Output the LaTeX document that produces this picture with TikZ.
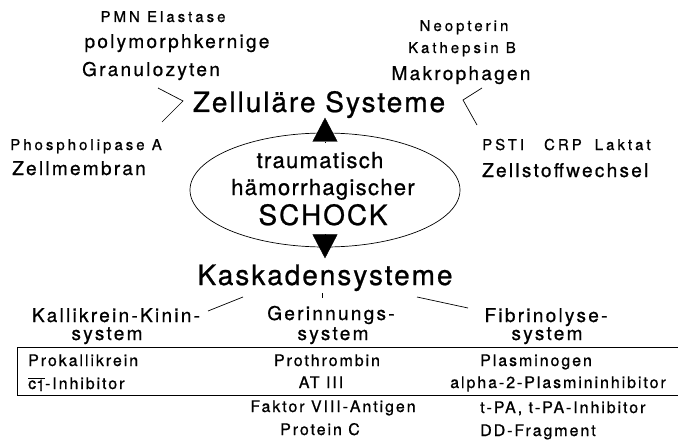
\documentclass[tikz,border=0pt]{standalone}
\usepackage{fontspec}
\setmainfont{TeX Gyre Heros}[FakeBold=0.8]
\usepackage{tikz}
\usetikzlibrary{arrows.meta, positioning, shapes.geometric}

\begin{document}
\begin{tikzpicture}[
  x=1pt, y=-1pt,
  every node/.style={inner sep=0pt, anchor=base},
  small/.style={font=\fontsize{15}{17}\selectfont\addfontfeature{LetterSpace=20}},
  lower/.style={font=\fontsize{16}{18}\selectfont\addfontfeature{LetterSpace=12}},
  mid/.style={font=\fontsize{19}{21}\selectfont\addfontfeature{LetterSpace=12}},
  inner/.style={font=\fontsize{22}{24}\selectfont\addfontfeature{LetterSpace=6}},
  big/.style={font=\fontsize{28}{30}\selectfont\addfontfeature{LetterSpace=7}},
  link/.style={line width=0.7pt},
  tri/.style={-{Triangle[width=25pt,length=24pt]}}
]
\useasboundingbox (0,0) rectangle (678,444);

% Nodes
\node[small] (pmn) at (163,22) {PMN Elastase};
\node[mid] (poly) at (177,48) {polymorphkernige};
\node[mid] (gran) at (151,76) {Granulozyten};
\node[big] (zell) at (319,112) {Zelluläre Systeme};
\node[small] (phos) at (86,150) {Phospholipase A};
\node[mid] (zmem) at (79,175) {Zellmembran};

\node[small] (neo) at (464,31) {Neopterin};
\node[small] (kath) at (462,53) {Kathepsin B};
\node[mid] (makro) at (461,80) {Makrophagen};
\node[small, anchor=base west] (psti) at (482,150) {PSTI\hspace{20pt}CRP\hspace{13pt}Laktat};
\node[mid, anchor=base west] (zstoff) at (482,177) {Zellstoffwechsel};

\node[draw, ellipse, link, anchor=center, minimum width=270pt, minimum height=114pt] (shock) at (325,190) {};
\node[inner] (traum) at (320,168) {traumatisch};
\node[inner] (haem) at (323,195) {hämorrhagischer};
\node[big] (schock) at (323,225) {SCHOCK};

\node[big] (kask) at (325,285) {Kaskadensysteme};
\node[mid] (kall) at (116,322) {Kallikrein-Kinin-};
\node[mid] (sysa) at (107,340) {system};
\node[mid] (ger) at (331,320) {Gerinnungs-};
\node[mid] (sysb) at (333,340) {system};
\node[mid] (fib) at (546,322) {Fibrinolyse-};
\node[mid] (sysc) at (547,340) {system};

\node[lower, anchor=base west] (prok) at (28,366) {Prokallikrein};
\node[lower, anchor=base west] (cinh) at (28,389) {$\overline{\mbox{c\raisebox{-2pt}{1}}}$-Inhibitor};
\node[lower] (proth) at (327,366) {Prothrombin};
\node[lower] (at) at (321,388) {AT III};
\node[lower, anchor=base west] (plas) at (480,366) {Plasminogen};
\node[lower] (alpha) at (558,388) {alpha-2-Plasmininhibitor};
\node[lower] (fak) at (333,412) {Faktor VIII-Antigen};
\node[lower] (prot) at (320,435) {Protein C};
\node[lower, anchor=base west] (tpa) at (480,413) {t-PA, t-PA-Inhibitor};
\node[lower, anchor=base west] (dd) at (480,436) {DD-Fragment};

% Free ends
\coordinate (la) at (158,88);
\coordinate (lt) at (183,101);
\coordinate (lb) at (162,122);
\coordinate (ra) at (482,88);
\coordinate (rt) at (463,100);
\coordinate (rb) at (477,125);
\coordinate (ka) at (243,297);
\coordinate (kb) at (208,311);
\coordinate (kc) at (322,293);
\coordinate (kd) at (322,298);
\coordinate (ke) at (417,297);
\coordinate (kf) at (468,308);

% Pointers
\draw[link] (la) -- (lt) -- (lb);
\draw[link] (ra) -- (rt) -- (rb);
\draw[tri] ([yshift=-9pt]shock.north) -- ([yshift=15pt]shock.north);
\draw[tri] ([yshift=12pt]shock.south) -- ([yshift=-11pt]shock.south);
\draw[link] (ka) -- (kb);
\draw[link] (kc) -- (kd);
\draw[link] (ke) -- (kf);

% Table frame
\draw[line width=1pt] (678,347) -- (17,347) -- (17,395) -- (678,395);
\end{tikzpicture}
\end{document}
